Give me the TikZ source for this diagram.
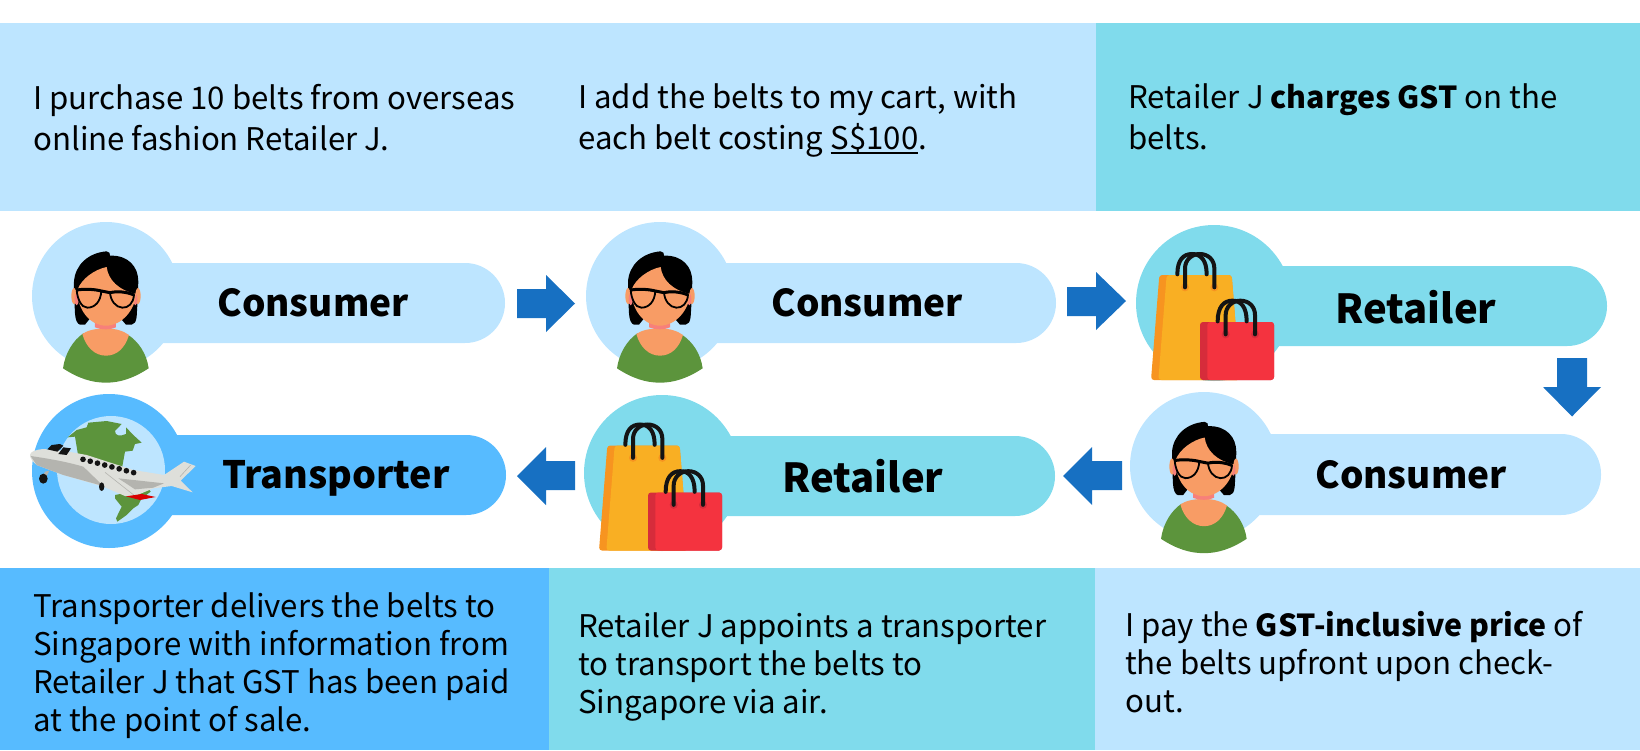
\documentclass[tikz,border=0pt]{standalone}
\usepackage{fontspec}
\setmainfont{Noto Sans CJK SC}
\definecolor{lblue}{HTML}{BDE5FF}
\definecolor{teal}{HTML}{80DBEC}
\definecolor{mblue}{HTML}{57BBFF}
\definecolor{arrowblue}{HTML}{1770C2}
\definecolor{shirt}{HTML}{5C943C}
\definecolor{skin}{HTML}{F89C65}
\definecolor{pinkskin}{HTML}{F7807A}
\definecolor{bagy}{HTML}{F9AF23}
\definecolor{bago}{HTML}{F79420}
\definecolor{bagr}{HTML}{F4333F}
\definecolor{bagd}{HTML}{D62C3B}
\definecolor{ink}{HTML}{141414}
\definecolor{planel}{HTML}{DEDFDA}
\definecolor{planed}{HTML}{B4B4AF}
\newcommand\bd[1]{{\fontsize{30.3}{41}\selectfont\bfseries #1}}
\newcommand\ulbox[1]{\setbox0\hbox{#1}\rlap{\raisebox{-4.5pt}{\rule{\wd0}{2pt}}}\box0}
\tikzset{
  body/.style={anchor=west,align=left,inner sep=0pt,font=\fontsize{31.2}{41}\selectfont},
  bodyb/.style={body,font=\fontsize{31.2}{38}\selectfont},
  role/.style={inner sep=0pt,font=\fontsize{37}{48}\selectfont\bfseries},
  rolebig/.style={role,font=\fontsize{40}{48}\selectfont\bfseries},
  rolet/.style={role,font=\fontsize{37.7}{48}\selectfont\bfseries},
  blockarrow/.style={fill=arrowblue,draw=none},
  person/.pic={
    \fill[shirt] (189,475) .. controls (195,430) and (220,390) .. (250,370) -- (385,375) .. controls (415,395) and (440,430) .. (446,475) .. controls (400,505) and (360,518) .. (318,518) .. controls (275,518) and (235,505) .. (189,475) -- cycle;
    \fill[skin] (247,372) .. controls (262,362) and (280,356) .. (318,355) .. controls (350,356) and (370,363) .. (387,375) .. controls (375,415) and (350,437) .. (318,437) .. controls (285,437) and (258,412) .. (247,372) -- cycle;
    \fill[pinkskin] (285,335) -- (348,335) -- (348,352) .. controls (330,360) and (305,360) .. (285,352) -- cycle;
    \fill[black] (222,215) .. controls (225,165) and (265,128) .. (320,124) .. controls (328,125) and (331,130) .. (330,137) .. controls (385,135) and (415,170) .. (415,215) -- (413,270) -- (410,320) .. controls (408,335) and (404,343) .. (395,344) -- (378,344) -- (340,300) -- (290,300) -- (255,344) -- (240,344) .. controls (232,342) and (226,330) .. (225,310) -- (222,250) -- cycle;
    \fill[skin] (222,258) ellipse [x radius=8,y radius=24];
    \fill[skin] (414,258) ellipse [x radius=8,y radius=24];
    \fill[pinkskin] (230,268) ellipse [x radius=6,y radius=18];
    \fill[pinkskin] (406,268) ellipse [x radius=6,y radius=18];
    \fill[skin] (232,240) .. controls (245,205) and (285,178) .. (320,171) .. controls (325,210) and (355,240) .. (408,252) .. controls (405,300) and (365,347) .. (318,347) .. controls (270,347) and (232,300) .. (232,240) -- cycle;
    \draw[black,line width=1.8pt] (230,240) .. controls (255,236) and (285,238) .. (304,243) .. controls (302,275) and (285,293) .. (262,293) .. controls (243,293) and (232,265) .. (230,240) -- cycle;
    \draw[black,line width=1.8pt] (330,248) .. controls (350,243) and (380,245) .. (402,255) .. controls (400,280) and (385,294) .. (367,293) .. controls (347,292) and (332,272) .. (330,248) -- cycle;
    \draw[black,line width=3pt] (230,240) .. controls (255,236) and (285,238) .. (304,243) -- (330,248) .. controls (350,243) and (380,245) .. (402,255);
  },
  bag/.pic={
    \fill[bago,rounded corners=3pt] (118,195) -- (335,195) -- (360,510) -- (93,510) -- cycle;
    \fill[bagy,rounded corners=3pt] (140,195) -- (335,195) -- (360,510) -- (115,510) -- cycle;
    \draw[ink,line width=4pt,line cap=round] (172,193) .. controls (172,150) and (190,132) .. (216,132) .. controls (242,132) and (260,150) .. (260,193);
    \fill[bago] (195,232) circle (12);
    \fill[bago] (283,232) circle (12);
    \draw[ink,line width=4pt,line cap=round] (195,232) -- (195,175) .. controls (195,150) and (215,132) .. (239,132) .. controls (265,132) and (283,150) .. (283,175) -- (283,232);
    \fill[bagd,rounded corners=3pt] (240,336) rectangle (462,510);
    \fill[bagr,rounded corners=3pt] (262,336) rectangle (462,510);
    \draw[ink,line width=4pt,line cap=round] (293,334) .. controls (293,290) and (312,272) .. (337,272) .. controls (362,272) and (380,290) .. (380,334);
    \fill[bagd] (317,373) circle (12);
    \fill[bagd] (405,373) circle (12);
    \draw[ink,line width=4pt,line cap=round] (317,373) -- (317,315) .. controls (317,290) and (337,272) .. (361,272) .. controls (387,272) and (405,290) .. (405,315) -- (405,373);
  },
  plane/.pic={
    \fill[shirt] (143,52) -- (170,30) -- (200,22) -- (205,8) -- (260,3) -- (305,12) -- (285,33) .. controls (285,48) and (300,50) .. (318,42) -- (318,22) -- (340,45) -- (365,68) -- (345,72) -- (338,92) -- (315,95) -- (305,150) -- (175,110) -- (170,80) -- (165,50) -- cycle;
    \fill[shirt] (285,225) -- (385,205) -- (392,215) -- (365,235) -- (355,255) -- (340,265) -- (320,285) -- (292,305) -- (288,295) -- (305,260) -- (285,235) -- cycle;
    \fill[planed] (75,155) -- (88,152) -- (78,172) -- (68,172) -- cycle;
    \fill[ink] (70,176) ellipse [x radius=13,y radius=15];
    \fill[planel] (30,105) .. controls (32,95) and (42,90) .. (70,87) -- (130,92) -- (200,105) -- (340,150) -- (432,165) -- (492,125) -- (527,138) -- (482,182) -- (518,217) -- (455,198) -- (400,205) -- (345,228) -- (315,228) -- (250,200) -- (130,165) -- (50,135) .. controls (38,125) and (30,115) .. (30,105) -- cycle;
    \fill[planed] (32,108) .. controls (80,115) and (140,125) .. (190,140) -- (250,198) -- (130,165) -- (50,135) -- cycle;
    \fill[planed] (295,175) -- (432,190) -- (400,203) -- (345,208) -- cycle;
    \draw[planed,line width=0.6pt] (255,157) -- (345,228);
    \draw[planed,line width=0.6pt] (512,135) -- (480,170);
    \fill[ink] (82,88) -- (95,75) -- (120,72) -- (130,77) -- (112,95) -- cycle;
    \fill[ink] (115,102) -- (130,82) -- (153,85) -- (140,105) -- cycle;
    \foreach \k in {0,...,7} \fill[ink] ({189+21.7*\k},{118+5.7*\k}) circle (8.5);
    \fill[ink] (245,200) ellipse [x radius=8,y radius=13];
    \fill[red!85!black] (318,229) -- (365,222) -- (407,231) -- (360,240) -- cycle;
  }
}
\begin{document}
\begin{tikzpicture}[x=1pt,y=-1pt]
\useasboundingbox (0,0) rectangle (1640,750);
% panels
\fill[lblue] (0,23) rectangle (1096,211);
\fill[teal] (1096,23) rectangle (1640,211);
\fill[mblue] (0,568) rectangle (549,750);
\fill[teal] (549,568) rectangle (1095,750);
\fill[lblue] (1095,568) rectangle (1640,750);
% panel text
\node[body] (t1) at (33,118) {I purchase 10 belts from overseas\\online fashion Retailer J.};
\node[body] (t2) at (578,120) {I add the belts to my cart, with\\each belt costing \ulbox{S\$100}.};
\node[body] (t3) at (1128,117) {Retailer J \bd{charges GST} on the\\belts.};
\node[bodyb] (b1) at (33,666) {Transporter delivers the belts to\\Singapore with information from\\Retailer J that GST has been paid\\at the point of sale.};
\node[bodyb] (b2) at (578,667) {Retailer J appoints a transporter\\to transport the belts to\\Singapore via air.};
\node[bodyb] (b3) at (1125,662) {I pay the \bd{GST-inclusive price} of\\the belts upfront upon check-\\out.};
% pills
\fill[lblue] (106,296) circle (74);
\fill[lblue,rounded corners=39.9pt] (106,263) rectangle (505,343);
\fill[lblue] (660,296) circle (74);
\fill[lblue,rounded corners=39.9pt] (660,263) rectangle (1056,343);
\fill[teal] (1214,303) circle (78);
\fill[teal,rounded corners=39.9pt] (1214,266) rectangle (1607,346);
\fill[lblue] (1204,466) circle (74);
\fill[lblue,rounded corners=39.9pt] (1204,434) rectangle (1601,515);
\fill[teal] (662,473) circle (78);
\fill[teal,rounded corners=39.9pt] (662,436) rectangle (1055,516);
\fill[mblue] (109,471) circle (77);
\fill[mblue,rounded corners=39.9pt] (109,435) rectangle (506,515);
\fill[lblue] (111,470) circle (54);
% icons
\pic[shift={(0,210)},scale=1/3] {person};
\pic[shift={(554,210)},scale=1/3] {person};
\pic[shift={(1098,380.5)},scale=1/3] {person};
\pic[shift={(1120,210)},scale=1/3] {bag};
\pic[shift={(568,380.5)},scale=1/3] {bag};
\pic[shift={(20,420)},scale=1/3] {plane};
% role labels
\node[role] (r1) at (313,303) {Consumer};
\node[role] (r2) at (867,303) {Consumer};
\node[rolebig] (r3) at (1416,307) {Retailer};
\node[role] (r4) at (1411,475) {Consumer};
\node[rolebig] (r5) at (863,476) {Retailer};
\node[rolet] (r6) at (336,478) {Transporter};
% block arrows
\fill[blockarrow] (517,289) -- (546,289) -- (546,275) -- (575,303.5) -- (546,332) -- (546,318) -- (517,318) -- cycle;
\fill[blockarrow] (1067,287) -- (1096,287) -- (1096,272) -- (1126,301) -- (1096,330) -- (1096,316) -- (1067,316) -- cycle;
\fill[blockarrow] (1557,358) -- (1587,358) -- (1587,387) -- (1601,387) -- (1572,416.5) -- (1543,387) -- (1557,387) -- cycle;
\fill[blockarrow] (1122,461) -- (1092,461) -- (1092,447) -- (1063,476) -- (1092,505) -- (1092,490) -- (1122,490) -- cycle;
\fill[blockarrow] (575,461) -- (546,461) -- (546,447) -- (517,476) -- (546,505) -- (546,490) -- (575,490) -- cycle;
\end{tikzpicture}
\end{document}
